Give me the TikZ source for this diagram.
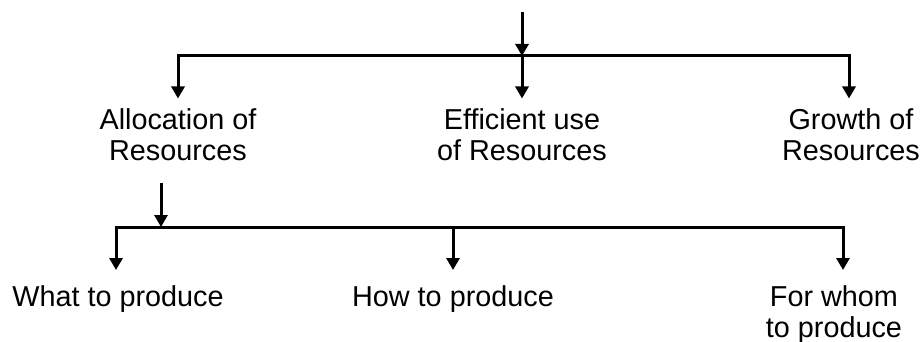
\documentclass[tikz,border=0pt]{standalone}
\usepackage{fontspec}
\setmainfont{Liberation Sans}
\usetikzlibrary{arrows.meta}

\tikzset{
  label/.style={inner sep=0pt, anchor=north, align=center,
                font=\fontsize{28.8}{31}\selectfont},
  link/.style={line width=3pt, line join=miter},
  tip/.style={link, -{Triangle[width=13pt,length=12pt]}}
}

\begin{document}
\begin{tikzpicture}[x=1pt,y=-1pt]
  \useasboundingbox (0,0) rectangle (921,342);

  % first level
  \node[label] (alloc) at (178,108.5) {Allocation of\\Resources};
  \node[label] (eff)   at (522,108.5) {Efficient use\\of Resources};
  \node[label] (grow)  at (851,108.5) {Growth of\\Resources};

  % second level
  \node[label] (what) at (118,285) {What to produce};
  \node[label] (how)  at (453,285) {How to produce};
  \node[label] (whom) at (834,285) {For whom\\to produce};

  % top branch
  \coordinate (src) at (522,12);
  \coordinate (hub) at (522,56);
  \draw[tip] (src) -- (hub);
  \draw[tip] (hub) -| ([yshift=10pt]alloc.north);
  \draw[tip] (hub) -- ([yshift=10pt]eff.north);
  \draw[tip] (hub) -| ([yshift=10pt,xshift=-2pt]grow.north);

  % branch below allocation
  \coordinate (asrc) at (161,183);
  \coordinate (ahub) at (161,227);
  \draw[tip] (asrc) -- (ahub);
  \draw[tip] (ahub) -| ([yshift=15pt,xshift=-2pt]what.north);
  \draw[tip] (ahub) -| ([yshift=15pt]how.north);
  \draw[tip] (ahub) -| ([yshift=15pt,xshift=9pt]whom.north);
\end{tikzpicture}
\end{document}
